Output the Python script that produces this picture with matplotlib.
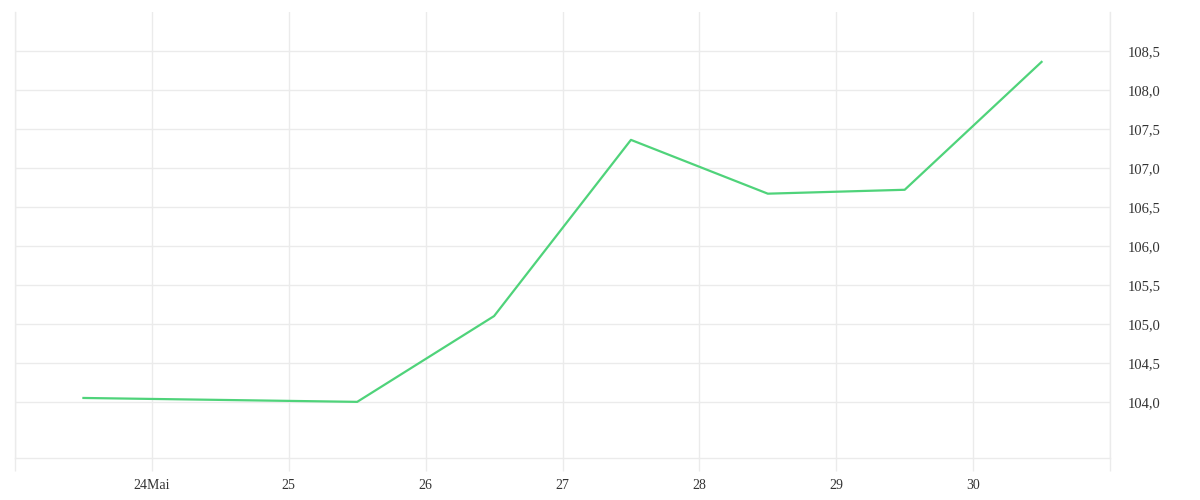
import numpy as np
import matplotlib.pyplot as plt
import matplotlib.dates as mdates
from datetime import datetime

# Data (points sit at midday)
dates = ['2021-05-23 12:00', '2021-05-25 12:00', '2021-05-26 12:00', '2021-05-27 12:00',
         '2021-05-28 12:00', '2021-05-29 12:00', '2021-05-30 12:00']
values = [104.05, 104.00, 105.10, 107.36, 106.67, 106.72, 108.36]

tick_days = [23, 24, 25, 26, 27, 28, 29, 30, 31]
tick_labels = ['', '24Mai', '25', '26', '27', '28', '29', '30', '']
y_ticks = [104.0, 104.5, 105.0, 105.5, 106.0, 106.5, 107.0, 107.5, 108.0, 108.5]

x = [datetime.strptime(d, '%Y-%m-%d %H:%M') for d in dates]

plt.rcParams['font.family'] = ['Liberation Serif', 'DejaVu Serif']

fig = plt.figure(figsize=(12, 5), dpi=100)
ax = fig.add_axes([0.0125, 0.084, 0.9125, 0.892])

grid_col = '#ebebeb'
ax.plot(x, values, color='#4fd37a', linewidth=1.6, zorder=3)

ax.set_xlim(datetime(2021, 5, 23), datetime(2021, 5, 31))
ax.set_ylim(103.28, 109.0)

ax.set_xticks([datetime(2021, 5, d) for d in tick_days])
ax.set_xticklabels(tick_labels)
ax.set_yticks(y_ticks)
ax.set_yticklabels([f'{v:.1f}'.replace('.', ',') for v in y_ticks])

ax.yaxis.tick_right()
ax.grid(True, color=grid_col, linewidth=1)
ax.tick_params(axis='x', length=9, color=grid_col, width=1, labelsize=10,
               labelcolor='#333333', pad=6)
ax.tick_params(axis='y', length=0, labelsize=10.5, labelcolor='#333333', pad=13)

ax.spines['top'].set_visible(False)
for s in ['left', 'right', 'bottom']:
    ax.spines[s].set_color(grid_col)
    ax.spines[s].set_linewidth(1)

plt.savefig('out.png', dpi=100)
